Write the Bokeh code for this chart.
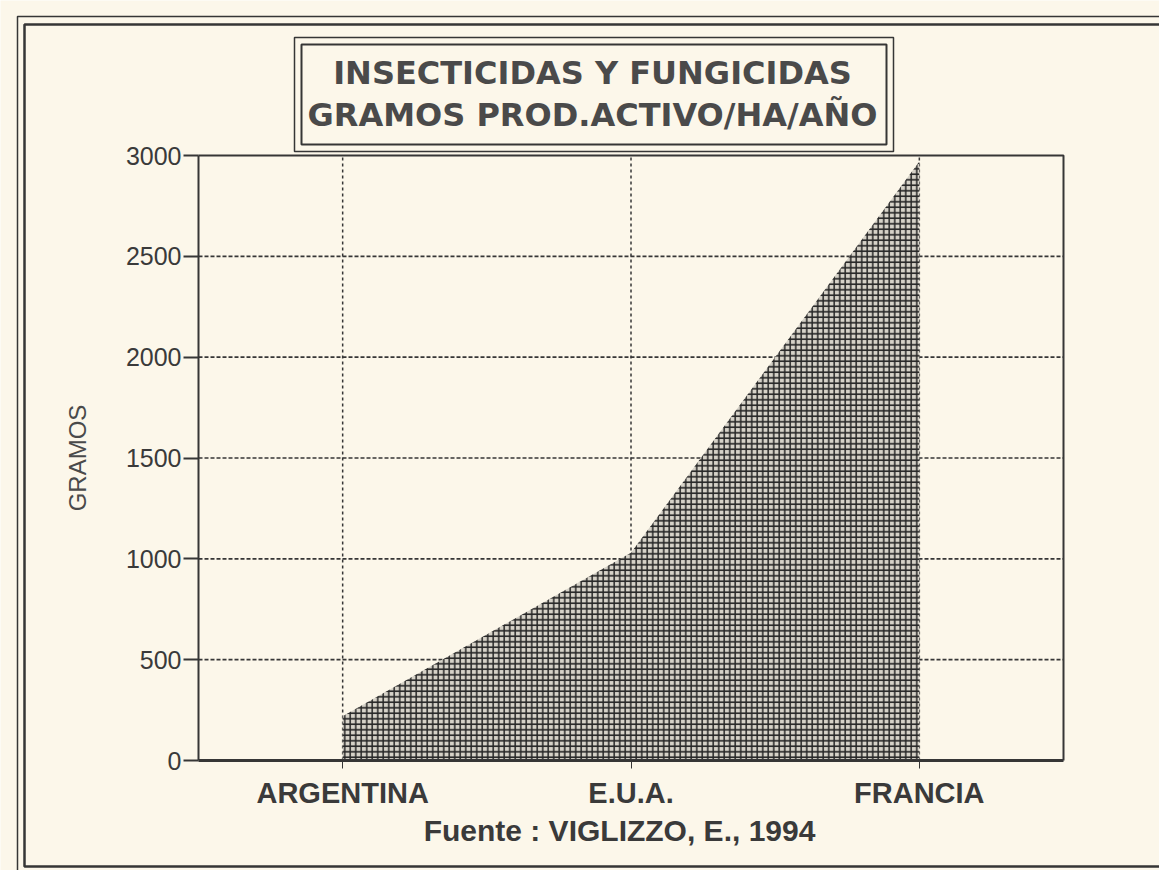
from bokeh.plotting import figure
from bokeh.models import BoxAnnotation, Label, FixedTicker, Range1d
from bokeh.embed import file_html
from bokeh.resources import INLINE

categories = ["ARGENTINA", "E.U.A.", "FRANCIA"]
gramos = [220, 1030, 2970]
y_ticks = [0, 500, 1000, 1500, 2000, 2500, 3000]
title_lines = ["INSECTICIDAS Y FUNGICIDAS", "GRAMOS PROD.ACTIVO/HA/AÑO"]
source_text = "Fuente : VIGLIZZO, E., 1994"
y_label = "GRAMOS"

INK = "#363636"
BG = "#fcf7ea"

# page / plot-area layout in pixels
W, H = 1159, 870
PL, PR, PT, PB = 198, 1063, 155, 760          # plot box edges
X0, X1 = -0.5, len(categories) - 0.5          # category span
Y0, Y1 = y_ticks[0], y_ticks[-1]

kx = (X1 - X0) / (PR - PL)
ky = (Y1 - Y0) / (PB - PT)
x_range = Range1d(X0 - PL * kx, X1 + (W - PR) * kx)
y_range = Range1d(Y0 - (H - PB) * ky, Y1 + PT * ky)

p = figure(width=W, height=H, output_backend="svg", toolbar_location=None,
           x_range=x_range, y_range=y_range, min_border=0)
p.background_fill_color = BG
p.border_fill_color = BG
p.outline_line_color = None
p.xgrid.visible = False
p.ygrid.visible = False

xs = list(range(len(categories)))

# dotted grid
p.segment(x0=xs, y0=[Y0] * len(xs), x1=xs, y1=[Y1] * len(xs),
          line_color=INK, line_dash="3 3", line_width=1.5)
inner = y_ticks[1:-1]
p.segment(x0=[X0] * len(inner), y0=inner, x1=[X1] * len(inner), y1=inner,
          line_color=INK, line_dash="4 2", line_width=1.6)

# hatched area
p.varea(x=xs, y1=[0] * len(xs), y2=gramos, fill_color="#d6d2c8",
        hatch_pattern="+", hatch_color="#262626", hatch_scale=5.5, hatch_weight=1.5)

# top and right edges of the plot box
p.line(x=[X0, X1, X1], y=[Y1, Y1, Y0], line_color=INK, line_width=2)

# axes fixed at the plot box
p.xaxis.fixed_location = Y0
p.xaxis.bounds = (X0, X1)
p.xaxis.ticker = FixedTicker(ticks=xs)
p.xaxis.major_label_overrides = {i: c for i, c in enumerate(categories)}
p.xaxis.major_label_text_font = "Liberation Sans"
p.xaxis.major_label_text_font_style = "bold"
p.xaxis.major_label_text_font_size = "29px"
p.xaxis.major_label_text_color = "#3a3a3a"
p.xaxis.major_label_standoff = 8
p.xaxis.major_tick_out = 8
p.xaxis.major_tick_in = 0
p.xaxis.minor_tick_line_color = None
p.xaxis.axis_line_width = 3
p.xaxis.axis_line_color = INK
p.xaxis.major_tick_line_color = INK

p.yaxis.fixed_location = X0
p.yaxis.bounds = (Y0, Y1)
p.yaxis.ticker = FixedTicker(ticks=y_ticks)
p.yaxis.major_label_text_font = "Liberation Sans"
p.yaxis.major_label_text_font_size = "25px"
p.yaxis.major_label_text_color = "#3a3a3a"
p.yaxis.major_tick_out = 15
p.yaxis.major_tick_in = 0
p.yaxis.major_tick_line_width = 2
p.yaxis.major_tick_line_color = INK
p.yaxis.minor_tick_line_color = None
p.yaxis.axis_line_width = 2
p.yaxis.axis_line_color = INK
p.yaxis.major_label_standoff = 2
p.yaxis.axis_label = y_label
p.yaxis.axis_label_text_font = "Liberation Sans"
p.yaxis.axis_label_text_font_style = "normal"
p.yaxis.axis_label_text_font_size = "24px"
p.yaxis.axis_label_text_color = "#4a4a4a"
p.yaxis.axis_label_standoff = 32


def frame_box(l, r, t, b, width, fill=None):
    return BoxAnnotation(left=l, right=r, top=t, bottom=b,
                         left_units="canvas", right_units="canvas",
                         top_units="canvas", bottom_units="canvas",
                         fill_color=fill if fill else BG, fill_alpha=1 if fill else 0,
                         line_color=INK, line_alpha=1, line_width=width)


# outer double frame
p.add_layout(frame_box(17, W + 30, 16, H + 30, 1.5))
p.add_layout(frame_box(24, W + 30, 24, H - 4, 2.5))
# title double box
p.add_layout(frame_box(294, 893, 37, 151, 1.5))
p.add_layout(frame_box(301, 886, 44, 144, 2))

for i, t in enumerate(title_lines):
    p.add_layout(Label(x=592, y=72 + i * 42, x_units="canvas", y_units="canvas",
                       text=t, text_align="center", text_baseline="middle",
                       text_font="DejaVu Sans", text_font_size="32px",
                       text_font_style="bold", text_color="#4a4a4a"))

p.add_layout(Label(x=619, y=830, x_units="canvas", y_units="canvas",
                   text=source_text, text_align="center", text_baseline="middle",
                   text_font="Liberation Sans", text_font_size="30px",
                   text_font_style="bold", text_color="#3a3a3a"))

open("out.html", "w").write(file_html(p, INLINE))
